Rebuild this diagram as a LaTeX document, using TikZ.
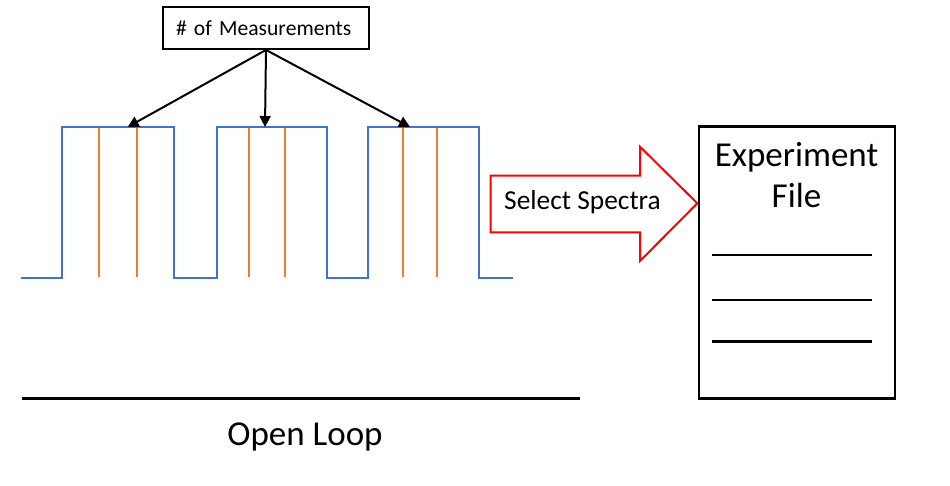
\documentclass[tikz,border=0pt]{standalone}
\usepackage{fontspec}
\setmainfont{Carlito}
\usetikzlibrary{arrows.meta}
\definecolor{pulseblue}{HTML}{4472C4}
\definecolor{markorange}{HTML}{ED7D31}
\definecolor{arrred}{HTML}{FF0000}
\tikzset{
  pulse/.style={draw=pulseblue, line width=2pt},
  mark/.style={},
  orangeline/.style={draw=markorange, line width=2pt},
  pointer/.style={draw=black, line width=2pt, -{Triangle[width=11pt,length=11pt]}},
  boxstyle/.style={draw=black, line width=2pt, rectangle},
  rule/.style={draw=black, line width=2.5pt},
}
\begin{document}
\begin{tikzpicture}[x=1pt,y=-1pt]
\useasboundingbox (0,0) rectangle (950,486);
% measurement box
\node[boxstyle, inner xsep=13pt, inner ysep=0pt, text width=180pt, minimum height=42.3pt, align=left, font=\fontsize{21.6}{24}\selectfont] (meas) at (266,27.8) {\# of Measurements};
% pulse train
\draw[pulse] (21,277.7) -- (62.3,277.7) -- (62.3,126.7) -- (174.3,126.7) -- (174.3,277.7)
  -- (216.7,277.7) -- (216.7,126.7) -- (327,126.7) -- (327,277.7)
  -- (368.3,277.7) -- (368.3,126.7) -- (479,126.7) -- (479,277.7) -- (513.3,277.7);
\foreach \x in {99,136.7,249,285,403,437}
  \draw[orangeline] (\x,127.7) -- (\x,277);
\coordinate (t1) at (127.7,127);
\coordinate (t2) at (265,127);
\coordinate (t3) at (410,127);
\draw[pointer] (meas.south) -- (t1);
\draw[pointer] (meas.south) -- (t2);
\draw[pointer] (meas.south) -- (t3);
% select spectra arrow
\draw[draw=arrred, line width=2pt, line join=miter]
  (490.7,175.7) -- (640,175.7) -- (640,146.7) -- (697.3,203.3) -- (640,261) -- (640,232.3) -- (490.7,232.3) -- cycle;
\node[anchor=base west, inner sep=0pt, font=\fontsize{27.4}{30}\selectfont] (sel) at (504,210) {Select Spectra};
% experiment file
\node[boxstyle, line width=2.5pt, minimum width=196pt, minimum height=271.6pt] (file) at (797,262.5) {};
\node[anchor=base, inner sep=0pt, font=\fontsize{35}{41}\selectfont] (exp) at (796.5,166.7) {Experiment};
\node[anchor=base, inner sep=0pt, font=\fontsize{35}{41}\selectfont] (fil) at (796.5,208) {File};
\foreach \y in {255,300,341.7}
  \draw[draw=black, line width=2.5pt] (712,\y) -- (872,\y);
% open loop
\draw[rule] (22,398.7) -- (580,398.7);
\node[anchor=base, inner sep=0pt, font=\fontsize{35}{41}\selectfont] (ol) at (305,445) {Open Loop};
\end{tikzpicture}
\end{document}
